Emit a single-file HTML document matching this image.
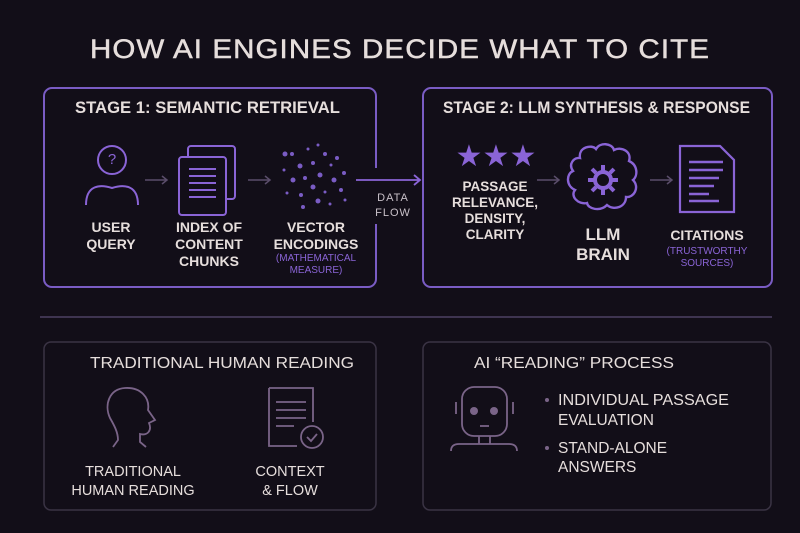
<!DOCTYPE html>
<html><head><meta charset="utf-8"><style>
html,body{margin:0;padding:0;background:#120e18;}
svg{display:block;font-family:"Liberation Sans",sans-serif;}
</style></head><body>
<svg width="800" height="533" viewBox="0 0 800 533" xmlns="http://www.w3.org/2000/svg">
<rect width="800" height="533" fill="#120e18"/>
<text x="400" y="58" text-anchor="middle" font-size="27" fill="#e6dedc" letter-spacing="1" textLength="620" lengthAdjust="spacingAndGlyphs" stroke="#e6dedc" stroke-width="0.5">HOW AI ENGINES DECIDE WHAT TO CITE</text>

<!-- Stage 1 -->
<rect x="44" y="88" width="332" height="199" rx="8" fill="none" stroke="#7a5cc4" stroke-width="2"/>
<rect x="370" y="168" width="14" height="56" fill="#120e18"/>
<text x="75" y="113" font-size="16.5" font-weight="bold" fill="#e6dedc" textLength="265" lengthAdjust="spacingAndGlyphs">STAGE 1: SEMANTIC RETRIEVAL</text>
<g fill="none" stroke="#8a64d6" stroke-width="2">
<circle cx="112" cy="160" r="14"/>
<path d="M86 205 C86 185 100 184 112 188 C124 184 138 185 138 205"/>
<rect x="188" y="146" width="47" height="53" rx="3"/>
<rect x="179" y="157" width="47" height="58" rx="3" fill="#120e18"/>
<path d="M189 169h27M189 176h27M189 183h27M189 190h27M189 197h27"/>
</g>
<text x="112" y="164" text-anchor="middle" font-size="15" fill="#8a64d6">?</text>
<g stroke="#5a4d6a" stroke-width="1.5" fill="none">
<path d="M145 180h22M162 176l5 4-5 4"/>
<path d="M248 180h22M265 176l5 4-5 4"/>
</g>
<g fill="#7a5cc4">
<circle cx="292" cy="154" r="2"/><circle cx="308" cy="149" r="1.5"/><circle cx="318" cy="145" r="1.5"/><circle cx="325" cy="154" r="2"/><circle cx="337" cy="158" r="2"/>
<circle cx="285" cy="154" r="2.5"/><circle cx="300" cy="166" r="2.5"/><circle cx="313" cy="163" r="2"/><circle cx="331" cy="165" r="1.5"/><circle cx="344" cy="173" r="2"/>
<circle cx="284" cy="170" r="1.5"/><circle cx="293" cy="180" r="2.5"/><circle cx="305" cy="178" r="2"/><circle cx="320" cy="175" r="2.5"/><circle cx="334" cy="180" r="2.5"/>
<circle cx="287" cy="193" r="1.5"/><circle cx="301" cy="195" r="2"/><circle cx="313" cy="187" r="2.5"/><circle cx="325" cy="192" r="1.5"/><circle cx="341" cy="190" r="2"/>
<circle cx="303" cy="207" r="2"/><circle cx="318" cy="201" r="2.5"/><circle cx="330" cy="204" r="1.5"/><circle cx="345" cy="200" r="1.5"/>
</g>
<g font-size="14" font-weight="bold" fill="#e6dedc" text-anchor="middle">
<text x="111" y="232">USER</text><text x="111" y="249">QUERY</text>
<text x="209" y="232">INDEX OF</text><text x="209" y="249">CONTENT</text><text x="209" y="266">CHUNKS</text>
<text x="316" y="232">VECTOR</text><text x="316" y="249">ENCODINGS</text>
</g>
<g font-size="10" fill="#8a64d6" text-anchor="middle">
<text x="316" y="261">(MATHEMATICAL</text><text x="316" y="273">MEASURE)</text>
</g>
<g stroke="#8a64d6" stroke-width="1.8" fill="none"><path d="M356 180h64M414 175l6 5-6 5"/></g>
<g font-size="11" fill="#c8c0c8" text-anchor="middle" letter-spacing="1"><text x="393" y="201">DATA</text><text x="393" y="216">FLOW</text></g>

<!-- Stage 2 -->
<rect x="423" y="88" width="349" height="199" rx="8" fill="none" stroke="#7a5cc4" stroke-width="2"/>
<text x="443" y="113" font-size="16.5" font-weight="bold" fill="#e6dedc" textLength="307" lengthAdjust="spacingAndGlyphs">STAGE 2: LLM SYNTHESIS &amp; RESPONSE</text>
<g fill="#8a64d6" font-size="30" text-anchor="middle"><text x="469" y="166">★</text><text x="496" y="166">★</text><text x="523" y="166">★</text></g>
<g font-size="13.5" font-weight="bold" fill="#e6dedc" text-anchor="middle">
<text x="495" y="191">PASSAGE</text><text x="495" y="207">RELEVANCE,</text><text x="495" y="223">DENSITY,</text><text x="495" y="239">CLARITY</text>
</g>
<g stroke="#5a4d6a" stroke-width="1.5" fill="none">
<path d="M537 180h22M554 176l5 4-5 4"/><path d="M650 180h22M667 176l5 4-5 4"/>
</g>
<g fill="none" stroke="#8a64d6" stroke-width="2.4">
<path d="M580 158 C578 147 592 144 596 149 C600 142 612 143 614 150 C622 146 632 152 629 161 C638 165 638 176 633 180 C640 187 634 198 626 197 C626 207 614 211 607 205 C600 212 588 209 587 203 C578 205 570 196 575 190 C566 186 566 174 573 171 C568 164 574 157 580 158 Z"/>
<circle cx="603" cy="180" r="8" stroke-width="4"/>
<path d="M603 165v6M603 189v6M588 180h6M612 180h6M592 169l4 4M610 187l4 4M614 169l-4 4M592 191l4-4" stroke-width="4"/>
<path d="M680 146h40l14 14v52h-54z" stroke-width="2.2"/>
<path d="M689 162h34M689 170h34M689 178h30M689 186h25M689 194h20M689 201h30"/>
</g>
<g font-size="17" font-weight="bold" fill="#e6dedc" text-anchor="middle"><text x="603" y="240">LLM</text><text x="603" y="260">BRAIN</text></g>
<text x="707" y="240" font-size="14" font-weight="bold" fill="#e6dedc" text-anchor="middle">CITATIONS</text>
<g font-size="10" fill="#8a64d6" text-anchor="middle"><text x="707" y="254">(TRUSTWORTHY</text><text x="707" y="266">SOURCES)</text></g>

<line x1="40" y1="317" x2="772" y2="317" stroke="#3e3450" stroke-width="2"/>

<!-- bottom left -->
<rect x="44" y="342" width="332" height="168" rx="7" fill="none" stroke="#3a3344" stroke-width="1.5"/>
<text x="222" y="368" font-size="16" fill="#e6dedc" text-anchor="middle" textLength="264" lengthAdjust="spacingAndGlyphs">TRADITIONAL HUMAN READING</text>
<g fill="none" stroke="#7a6488" stroke-width="1.8">
<path d="M113 447 L118 440 C118 432 114 425 110 418 C104 405 109 389 125 388 C141 387 150 398 148 410 L155 420 L149 423 C152 430 148 436 140 434 L140 442 L146 447"/>
<path d="M269 388h44v34M269 388v58h28"/>
<path d="M276 402h30M276 410h30M276 418h30M276 426h18"/>
<circle cx="312" cy="437" r="11"/><path d="M307 437l4 4 6-7"/>
</g>
<g font-size="14.5" fill="#e6dedc" text-anchor="middle">
<text x="133" y="476">TRADITIONAL</text><text x="133" y="495">HUMAN READING</text>
<text x="290" y="476">CONTEXT</text><text x="290" y="495">&amp; FLOW</text>
</g>

<!-- bottom right -->
<rect x="423" y="342" width="348" height="168" rx="7" fill="none" stroke="#3a3344" stroke-width="1.5"/>
<text x="574" y="368" font-size="16" fill="#e6dedc" text-anchor="middle" textLength="200" lengthAdjust="spacingAndGlyphs">AI “READING” PROCESS</text>
<g fill="none" stroke="#7a6488" stroke-width="1.8">
<rect x="462" y="387" width="45" height="49" rx="12"/>
<path d="M456 402v12M513 402v12"/>
<path d="M479 436v8M490 436v8M451 451c0-5 3-7 8-7h50c5 0 8 2 8 7"/>
<path d="M480 426h9"/>
</g>
<circle cx="474" cy="411" r="4" fill="#7a6488"/><circle cx="494" cy="411" r="4" fill="#7a6488"/>
<g fill="#7a6488"><circle cx="547" cy="400" r="2"/><circle cx="547" cy="448" r="2"/></g>
<g font-size="15.5" fill="#e6dedc">
<text x="558" y="405" textLength="171" lengthAdjust="spacingAndGlyphs">INDIVIDUAL PASSAGE</text>
<text x="558" y="425">EVALUATION</text>
<text x="558" y="453">STAND-ALONE</text>
<text x="558" y="472">ANSWERS</text>
</g>
</svg>
</body></html>
